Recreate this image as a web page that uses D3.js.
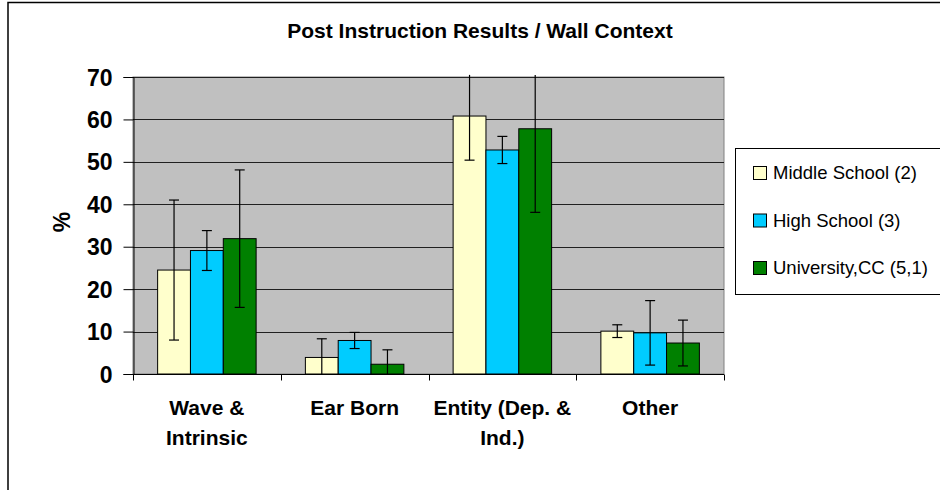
<!DOCTYPE html>
<html><head><meta charset="utf-8">
<script src="https://cdn.jsdelivr.net/npm/d3@7"></script>
<style>body{margin:0;background:#fff}svg{display:block}text{font-family:"Liberation Sans",Arial,sans-serif}</style>
</head><body><svg id="c" width="940" height="490"></svg>
<script>
const categories = [["Wave &","Intrinsic"],["Ear Born"],["Entity (Dep. &","Ind.)"],["Other"]];
const seriesNames = ["Middle School (2)","High School (3)","University,CC (5,1)"];
const seriesColors = ["#ffffcc","#00ccff","#008000"];
const middleSchool = [24.5, 3.9, 60.8, 10.1];
const highSchool = [29.1, 7.9, 52.8, 9.7];
const university = [31.9, 2.3, 57.8, 7.3];
const middleErr = [16.5, 4.4, 10.4, 1.5];
const highErr = [4.7, 1.9, 3.2, 7.6];
const univErr = [16.2, 3.4, 19.7, 5.4];
const yTicks = [0,10,20,30,40,50,60,70];

const values = [middleSchool, highSchool, university];
const errs = [middleErr, highErr, univErr];

const svg = d3.select("#c");
const L = 133, R = 724, T = 77, B = 374;
const x0 = d3.scaleBand().domain(d3.range(categories.length)).range([L, R]).paddingInner(0).paddingOuter(0);
const groupW = x0.bandwidth() * 2 / 3;
const x1 = d3.scaleBand().domain(d3.range(3)).range([0, groupW]);
const y = d3.scaleLinear().domain([0, 70]).range([B, T]);

// outer border
svg.append("rect").attr("x",8).attr("y",2.5).attr("width",940).attr("height",500)
  .attr("fill","none").attr("stroke","#000").attr("stroke-width",1.5);

// title
svg.append("text").attr("x",480).attr("y",38).attr("text-anchor","middle")
  .attr("font-weight","bold").attr("font-size",21).text("Post Instruction Results / Wall Context");

// plot bg
svg.append("rect").attr("x",L).attr("y",T).attr("width",R-L).attr("height",B-T)
  .attr("fill","#c0c0c0").attr("stroke","#808080").attr("stroke-width",1);

// gridlines
svg.append("g").selectAll("line").data(yTicks.filter(d=>d>0)).join("line")
  .attr("x1",L).attr("x2",R).attr("y1",d=>Math.round(y(d))+0.5).attr("y2",d=>Math.round(y(d))+0.5)
  .attr("stroke","#202020").attr("stroke-width",1);

// y axis
const yAxis = d3.axisLeft(y).tickValues(yTicks).tickSize(10).tickPadding(11);
const gy = svg.append("g").attr("transform",`translate(${L+0.5},0)`).call(yAxis);
gy.select(".domain").attr("stroke","#000");
gy.selectAll(".tick line").attr("stroke","#000");
gy.selectAll(".tick text").attr("font-size",23).attr("font-weight","bold").attr("fill","#000")
  .attr("font-family","'Liberation Sans',Arial,sans-serif").attr("dy","0.35em");

svg.append("text").attr("transform","translate(70,222) rotate(-90)").attr("text-anchor","middle")
  .attr("font-size",23).attr("font-weight","bold").text("%");

// x axis
const gx = svg.append("g").attr("transform",`translate(0,${B+0.5})`);
gx.append("line").attr("x1",L).attr("x2",R).attr("stroke","#000");
const bounds = d3.range(categories.length+1).map(i => i < categories.length ? x0(i) : x0(i-1)+x0.bandwidth());
gx.selectAll("line.t").data(bounds).join("line").attr("class","t")
  .attr("x1",d=>Math.round(d)+0.5).attr("x2",d=>Math.round(d)+0.5).attr("y1",0).attr("y2",6).attr("stroke","#000");

categories.forEach((lines,i)=>{
  const cx = x0(i)+x0.bandwidth()/2;
  lines.forEach((ln,j)=>{
    svg.append("text").attr("x",cx).attr("y",415+j*30).attr("text-anchor","middle")
      .attr("font-size",21).attr("font-weight","bold").text(ln);
  });
});

// bars
const off = (x0.bandwidth()-groupW)/2;
values.forEach((vals,s)=>{
  const g = svg.append("g");
  g.selectAll("rect").data(vals).join("rect")
    .attr("x",(d,i)=>x0(i)+off+x1(s))
    .attr("y",d=>y(d)).attr("width",x1.bandwidth()).attr("height",d=>B-y(d))
    .attr("fill",seriesColors[s]).attr("stroke","#000").attr("stroke-width",1);
});
// error bars
values.forEach((vals,s)=>{
  vals.forEach((v,i)=>{
    const cx = x0(i)+off+x1(s)+x1.bandwidth()/2;
    const hi = v+errs[s][i], lo = v-errs[s][i];
    const yh = y(Math.min(hi,70.5)), yl = y(Math.max(lo,0));
    const g = svg.append("g").attr("stroke","#000").attr("stroke-width",1.2);
    g.append("line").attr("x1",cx).attr("x2",cx).attr("y1",yh).attr("y2",yl);
    if (hi <= 70) g.append("line").attr("x1",cx-5).attr("x2",cx+5).attr("y1",yh).attr("y2",yh);
    if (lo >= 0) g.append("line").attr("x1",cx-5).attr("x2",cx+5).attr("y1",yl).attr("y2",yl);
  });
});

// legend
svg.append("rect").attr("x",735.5).attr("y",148.5).attr("width",220).attr("height",146)
  .attr("fill","#fff").attr("stroke","#000").attr("stroke-width",1);
seriesNames.forEach((n,i)=>{
  const cy = 173 + i*47.5;
  svg.append("rect").attr("x",753.5).attr("y",cy-6.5).attr("width",13).attr("height",13)
    .attr("fill",seriesColors[i]).attr("stroke","#000");
  svg.append("text").attr("x",773).attr("y",cy).attr("dy","0.35em").attr("font-size",18.5).text(n);
});
</script></body></html>
